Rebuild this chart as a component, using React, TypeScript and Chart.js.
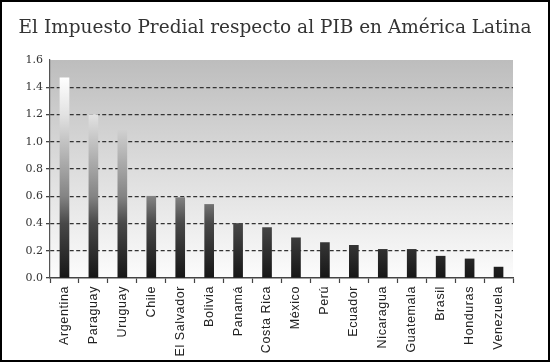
import React, { useEffect, useRef } from "react";
import { Chart, registerables } from "chart.js";

Chart.register(...registerables);

const categories = [
  "Argentina", "Paraguay", "Uruguay", "Chile", "El Salvador", "Bolivia", "Panamá",
  "Costa Rica", "México", "Perú", "Ecuador", "Nicaragua", "Guatemala", "Brasil",
  "Honduras", "Venezuela",
];
const values = [1.47, 1.2, 1.09, 0.6, 0.59, 0.54, 0.4, 0.37, 0.295, 0.26, 0.24, 0.21, 0.21, 0.16, 0.14, 0.08];
const yTicks = [0, 0.2, 0.4, 0.6, 0.8, 1.0, 1.2, 1.4, 1.6];
const titleText = "El Impuesto Predial respecto al PIB en América Latina";

const framePlugin = {
  id: "frame",
  beforeDraw(chart: any) {
    const { ctx, chartArea } = chart;
    ctx.save();
    ctx.fillStyle = "#ffffff";
    ctx.fillRect(0, 0, chart.width, chart.height);
    if (chartArea) {
      const g = ctx.createLinearGradient(0, chartArea.top, 0, chartArea.bottom);
      g.addColorStop(0, "#bdbdbd");
      g.addColorStop(1, "#fcfcfc");
      ctx.fillStyle = g;
      ctx.fillRect(chartArea.left, chartArea.top, chartArea.right - chartArea.left, chartArea.bottom - chartArea.top);
    }
    ctx.restore();
  },
  afterDatasetsDraw(chart: any) {
    (chart.ctx as any).letterSpacing = "0.6px";
  },
  afterDraw(chart: any) {
    const { ctx } = chart;
    (ctx as any).letterSpacing = "0px";
    ctx.save();
    ctx.strokeStyle = "#000000";
    ctx.lineWidth = 2;
    ctx.strokeRect(1, 1, chart.width - 2, chart.height - 2);
    ctx.restore();
  },
};

function barGradient(context: any) {
  const chart = context.chart;
  const area = chart.chartArea;
  if (!area) return "#333333";
  const g = chart.ctx.createLinearGradient(0, area.bottom, 0, area.top);
  g.addColorStop(0, "#161616");
  g.addColorStop(0.25, "#484848");
  g.addColorStop(0.375, "#848484");
  g.addColorStop(0.75, "#e2e2e2");
  g.addColorStop(0.92, "#ffffff");
  g.addColorStop(1, "#ffffff");
  return g;
}

export default function App() {
  const ref = useRef<HTMLCanvasElement>(null);
  useEffect(() => {
    if (!ref.current) return;
    const chart = new Chart(ref.current, {
      type: "bar",
      data: {
        labels: categories,
        datasets: [
          {
            data: values,
            backgroundColor: barGradient,
            barThickness: 9,
            borderWidth: 0,
          },
        ],
      },
      plugins: [framePlugin],
      options: {
        responsive: false,
        animation: false,
        layout: { padding: { left: 0, right: 0, top: 0, bottom: 0 } },
        plugins: {
          legend: { display: false },
          tooltip: { enabled: false },
          title: {
            display: true,
            text: titleText,
            color: "#333333",
            font: { family: "DejaVu Serif", size: 18.5, weight: "normal" },
            padding: { top: 17, bottom: 20.8 },
          },
        },
        scales: {
          x: {
            offset: true,
            afterFit: (s: any) => { s.height = 84; },
            grid: {
              offset: true,
              drawOnChartArea: false,
              drawTicks: true,
              tickLength: 5,
              tickColor: "#444444",
              tickWidth: 1.2,
            },
            border: { display: true, color: "#444444", width: 1.5 },
            ticks: {
              z: 1,
              autoSkip: false,
              minRotation: 90,
              maxRotation: 90,
              padding: 3,
              color: "#222222",
              font: { family: "Liberation Sans", size: 12.5 },
            },
          },
          y: {
            min: 0,
            max: 1.6,
            afterFit: (s: any) => { s.width = 50; },
            afterBuildTicks: (s: any) => { s.ticks = yTicks.map((v) => ({ value: v })); },
            grid: {
              color: (c: any) => (c.tick && (c.tick.value === 0 || c.tick.value === 1.6) ? "rgba(0,0,0,0)" : "#333333"),
              lineWidth: 1.3,
              drawTicks: true,
              tickLength: 4,
              tickColor: (c: any) => (c.tick && c.tick.value === 1.6 ? "rgba(0,0,0,0)" : "#444444"),
              tickBorderDash: [],
            },
            border: { display: true, color: "#555555", width: 1.2, dash: [4, 2.5] },
            ticks: {
              padding: 3,
              color: "#333333",
              font: { family: "DejaVu Serif", size: 11 },
              callback: (v: any) => Number(v).toFixed(1),
            },
          },
          yRight: {
            position: "right",
            display: true,
            min: 0,
            max: 1.6,
            afterFit: (s: any) => { s.width = 37; },
            grid: { drawOnChartArea: false, drawTicks: false },
            border: { display: false },
            ticks: { display: false },
          },
        },
      },
    } as any);
    return () => chart.destroy();
  }, []);
  return (
    <div style={{ position: "fixed", left: 0, top: 0, width: 550, height: 362 }}>
      <canvas ref={ref} width={550} height={362} />
    </div>
  );
}
